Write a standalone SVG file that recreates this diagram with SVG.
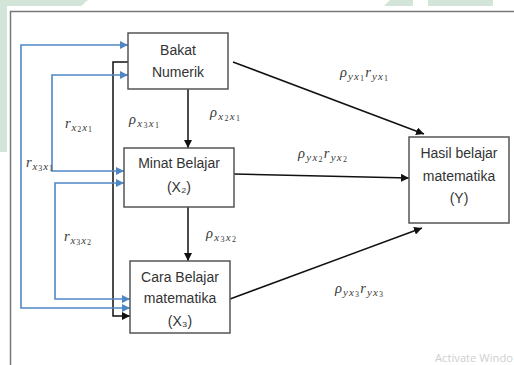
<svg xmlns="http://www.w3.org/2000/svg" width="514" height="365" viewBox="0 0 514 365">
  <defs>
    <marker id="ah" viewBox="0 0 10 10" refX="10" refY="5" markerWidth="8" markerHeight="8" markerUnits="userSpaceOnUse" orient="auto">
      <path d="M0,0 L10,5 L0,10 z" fill="#111"/>
    </marker>
    <marker id="ab" viewBox="0 0 10 10" refX="10" refY="5" markerWidth="8" markerHeight="8" markerUnits="userSpaceOnUse" orient="auto-start-reverse">
      <path d="M0,0 L10,5 L0,10 z" fill="#4f86c6"/>
    </marker>
    <style>
      .box { fill: #fff; stroke: #555; stroke-width: 1.5; }
      .lbl { font-family: "Liberation Sans", Arial, sans-serif; font-size: 14px; fill: #333; text-anchor: middle; }
      .math { font-family: "Liberation Serif", "DejaVu Serif", serif; font-style: italic; font-size: 14.5px; fill: #3a3a3a; }
      .s { font-size: 11px; }
      .d { font-size: 8px; font-style: normal; }
      .black { fill: none; stroke: #111; stroke-width: 1.5; }
      .blue { fill: none; stroke: #4f86c6; stroke-width: 1.6; }
    </style>
  </defs>

  <!-- page background and faint header/side shapes -->
  <rect x="0" y="0" width="514" height="365" fill="#fff"/>
  <g fill="#d3e4d9">
    <polygon points="0,0 88,0 80,7 0,7"/>
    <polygon points="0,0 8,0 8,152 0,152"/>
    <polygon points="390,0 413,0 413,7 383,7"/>
    <rect x="428" y="0" width="65" height="7"/>
  </g>
  <rect x="7" y="6" width="507" height="359" fill="#fff"/>

  <!-- frame -->
  <path d="M10.5,365 V11.5 H514" fill="none" stroke="#777" stroke-width="1.5"/>

  <!-- connectors -->
  <g id="connectors">
    <path class="black" d="M188,89 V148" marker-end="url(#ah)"/>
    <path class="black" d="M188,207 V261" marker-end="url(#ah)"/>
    <path class="black" d="M233,62 L424,134" marker-end="url(#ah)"/>
    <path class="black" d="M234,174 L409,178" marker-end="url(#ah)"/>
    <path class="black" d="M230,299 L422,228" marker-end="url(#ah)"/>
    <path class="black" d="M128,62 H113 V316 H130" marker-end="url(#ah)"/>
    <path class="blue" d="M128,45 H21 V308 H130" marker-start="url(#ab)" marker-end="url(#ab)"/>
    <path class="blue" d="M128,75 H52 V171 H124" marker-start="url(#ab)" marker-end="url(#ab)"/>
    <path class="blue" d="M124,183 H55 V299 H130" marker-start="url(#ab)" marker-end="url(#ab)"/>
  </g>

  <!-- nodes -->
  <g id="bakat">
    <rect class="box" x="128" y="33" width="100" height="56"/>
    <text class="lbl" x="178" y="55">Bakat</text>
    <text class="lbl" x="178" y="77">Numerik</text>
  </g>
  <g id="minat">
    <rect class="box" x="124" y="148" width="110" height="59"/>
    <text class="lbl" x="179" y="168">Minat Belajar</text>
    <text class="lbl" x="179" y="192">(X₂)</text>
  </g>
  <g id="cara">
    <rect class="box" x="130" y="261" width="100" height="72"/>
    <text class="lbl" x="180" y="282">Cara Belajar</text>
    <text class="lbl" x="180" y="303">matematika</text>
    <text class="lbl" x="180" y="326">(X₃)</text>
  </g>
  <g id="hasil">
    <rect class="box" x="409" y="137" width="100" height="86"/>
    <text class="lbl" x="459" y="158">Hasil belajar</text>
    <text class="lbl" x="459" y="181">matematika</text>
    <text class="lbl" x="459" y="203">(Y)</text>
  </g>

  <!-- coefficient labels -->
  <g id="labels">
    <text class="math" x="65" y="128" textLength="27" lengthAdjust="spacing">r<tspan class="s" dy="2.5">x</tspan><tspan class="d" dy="1.5">2</tspan><tspan class="s" dy="-1.5">x</tspan><tspan class="d" dy="1.5">1</tspan></text>
    <text class="math" x="26" y="167" textLength="27" lengthAdjust="spacing">r<tspan class="s" dy="2.5">x</tspan><tspan class="d" dy="1.5">3</tspan><tspan class="s" dy="-1.5">x</tspan><tspan class="d" dy="1.5">1</tspan></text>
    <text class="math" x="64" y="241" textLength="27" lengthAdjust="spacing">r<tspan class="s" dy="2.5">x</tspan><tspan class="d" dy="1.5">3</tspan><tspan class="s" dy="-1.5">x</tspan><tspan class="d" dy="1.5">2</tspan></text>
    <text class="math" x="129" y="124" textLength="30" lengthAdjust="spacing">ρ<tspan class="s" dy="2.5">x</tspan><tspan class="d" dy="1.5">3</tspan><tspan class="s" dy="-1.5">x</tspan><tspan class="d" dy="1.5">1</tspan></text>
    <text class="math" x="210" y="117" textLength="30" lengthAdjust="spacing">ρ<tspan class="s" dy="2.5">x</tspan><tspan class="d" dy="1.5">2</tspan><tspan class="s" dy="-1.5">x</tspan><tspan class="d" dy="1.5">1</tspan></text>
    <text class="math" x="206" y="238" textLength="30" lengthAdjust="spacing">ρ<tspan class="s" dy="2.5">x</tspan><tspan class="d" dy="1.5">3</tspan><tspan class="s" dy="-1.5">x</tspan><tspan class="d" dy="1.5">2</tspan></text>
    <text class="math" x="340" y="77" textLength="48" lengthAdjust="spacing">ρ<tspan class="s" dy="2.5">yx</tspan><tspan class="d" dy="1.5">1</tspan><tspan dy="-4">r</tspan><tspan class="s" dy="2.5">yx</tspan><tspan class="d" dy="1.5">1</tspan></text>
    <text class="math" x="298" y="158" textLength="49" lengthAdjust="spacing">ρ<tspan class="s" dy="2.5">yx</tspan><tspan class="d" dy="1.5">2</tspan><tspan dy="-4">r</tspan><tspan class="s" dy="2.5">yx</tspan><tspan class="d" dy="1.5">2</tspan></text>
    <text class="math" x="335" y="293" textLength="48" lengthAdjust="spacing">ρ<tspan class="s" dy="2.5">yx</tspan><tspan class="d" dy="1.5">3</tspan><tspan dy="-4">r</tspan><tspan class="s" dy="2.5">yx</tspan><tspan class="d" dy="1.5">3</tspan></text>
  </g>

  <!-- system overlay text at the page corner -->
  <text x="435" y="362" font-family="'Open Sans', 'Liberation Sans', sans-serif" font-size="11.5" fill="#cfcfcf" textLength="78" lengthAdjust="spacingAndGlyphs">Activate Windo</text>
</svg>
